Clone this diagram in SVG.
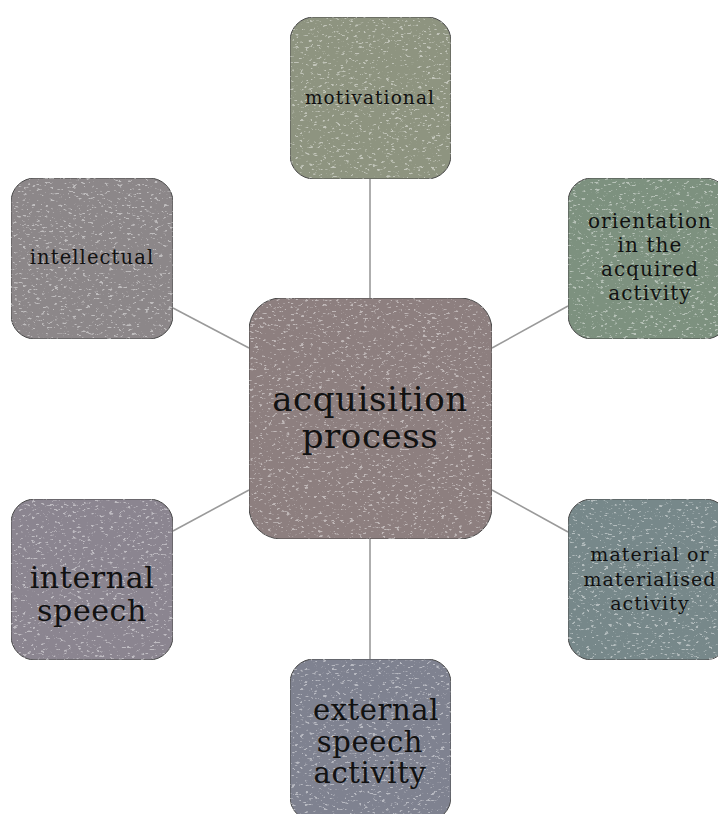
<svg xmlns="http://www.w3.org/2000/svg" width="718" height="814" viewBox="0 0 718 814">
<defs>
<filter id="grunge" x="0" y="0" width="100%" height="100%" color-interpolation-filters="sRGB">
<feTurbulence type="fractalNoise" baseFrequency="0.22 0.45" numOctaves="3" seed="7" result="n"/>
<feColorMatrix in="n" type="matrix" values="0 0 0 0 1  0 0 0 0 1  0 0 0 0 1  9 0 0 0 -5.6" result="spk"/>
<feComposite in="spk" in2="SourceAlpha" operator="in" result="spk2"/>
<feComponentTransfer in="spk2" result="spk3"><feFuncA type="linear" slope="0.45"/></feComponentTransfer>
<feMerge><feMergeNode in="SourceGraphic"/><feMergeNode in="spk3"/></feMerge>
</filter>
<style>
.box{stroke:#4a4a4a;stroke-width:1;filter:url(#grunge)}
.lbl{font-family:"DejaVu Serif","Liberation Serif",serif;fill:#111;text-anchor:middle;letter-spacing:0.6px}
.sm{letter-spacing:1.1px}
.con line{stroke:#9a9a9a;stroke-width:1.6}
</style>
</defs>
<g class="con">
<line x1="370" y1="179" x2="370" y2="298"/>
<line x1="370" y1="539" x2="370" y2="659"/>
<line x1="173" y1="308" x2="249" y2="348"/>
<line x1="492" y1="348" x2="568" y2="306"/>
<line x1="249" y1="490" x2="173" y2="531"/>
<line x1="492" y1="490" x2="568" y2="532"/>
</g>
<g id="center">
<rect class="box" x="249" y="298" width="243" height="241" rx="32" fill="#8d7f7f"/>
<text class="lbl" x="370" y="411" font-size="34">acquisition</text>
<text class="lbl" x="370" y="448" font-size="34">process</text>
</g>
<g id="motivational">
<rect class="box" x="290" y="17" width="161" height="162" rx="24" fill="#8e9480"/>
<text class="lbl sm" x="370" y="104" font-size="18.5">motivational</text>
</g>
<g id="orientation">
<rect class="box" x="568" y="178" width="161" height="161" rx="24" fill="#7d917f"/>
<text class="lbl sm" x="650" y="228" font-size="20">orientation</text>
<text class="lbl sm" x="650" y="252" font-size="20">in the</text>
<text class="lbl sm" x="650" y="276" font-size="20">acquired</text>
<text class="lbl sm" x="650" y="300" font-size="20">activity</text>
</g>
<g id="intellectual">
<rect class="box" x="11" y="178" width="162" height="161" rx="24" fill="#8c8789"/>
<text class="lbl sm" x="92" y="264" font-size="19.5">intellectual</text>
</g>
<g id="internal">
<rect class="box" x="11" y="499" width="162" height="161" rx="24" fill="#8b8590"/>
<text class="lbl" x="92" y="588" font-size="30">internal</text>
<text class="lbl" x="92" y="621" font-size="30">speech</text>
</g>
<g id="material">
<rect class="box" x="568" y="499" width="161" height="161" rx="24" fill="#77888a"/>
<text class="lbl sm" x="650" y="561" font-size="19">material or</text>
<text class="lbl sm" x="650" y="586" font-size="19">materialised</text>
<text class="lbl sm" x="650" y="610" font-size="19">activity</text>
</g>
<g id="external">
<rect class="box" x="290" y="659" width="161" height="162" rx="24" fill="#7f8290"/>
<text class="lbl" x="376" y="720" font-size="29">external</text>
<text class="lbl" x="370" y="752" font-size="29">speech</text>
<text class="lbl" x="370" y="783" font-size="29">activity</text>
</g>
</svg>
